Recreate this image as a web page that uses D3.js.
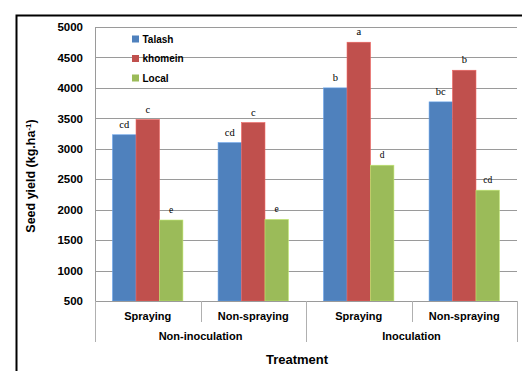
<!DOCTYPE html>
<html>
<head>
<meta charset="utf-8">
<script src="https://cdn.jsdelivr.net/npm/d3@7"></script>
<style>
  html, body { margin: 0; padding: 0; background: #fff; }
  svg { display: block; }
</style>
</head>
<body>
<svg id="chart" width="522" height="371"></svg>
<script>
// Seed yield by treatment and cultivar
const treatments = ["Spraying", "Non-spraying", "Spraying", "Non-spraying"];
const groups = ["Non-inoculation", "Inoculation"];
const seriesNames = ["Talash", "khomein", "Local"];
const talash  = [3230, 3100, 4000, 3770];
const khomein = [3480, 3430, 4750, 4290];
const local   = [1830, 1840, 2730, 2320];
const talashLetters  = ["cd", "cd", "b", "bc"];
const khomeinLetters = ["c", "c", "a", "b"];
const localLetters   = ["e", "e", "d", "cd"];
const yTicks = [500, 1000, 1500, 2000, 2500, 3000, 3500, 4000, 4500, 5000];
const colors = ["#4F81BD", "#C0504D", "#9BBB59"];

const seriesValues = [talash, khomein, local];
const seriesLetters = [talashLetters, khomeinLetters, localLetters];

const svg = d3.select("#chart");
const plotLeft = 95, plotRight = 517, plotTop = 27, plotBottom = 301;

// outer frame (left and top edges visible)
svg.append("path")
  .attr("d", "M16.5,371 L16.5,15.5 L522,15.5")
  .attr("fill", "none").attr("stroke", "#000").attr("stroke-width", 2);

const y = d3.scaleLinear().domain([500, 5000]).range([plotBottom, plotTop]);
const x0 = d3.scaleBand().domain(d3.range(treatments.length)).range([plotLeft, plotRight]).paddingInner(0).paddingOuter(0);
const bw = x0.bandwidth();
const x1 = d3.scaleBand().domain(d3.range(seriesNames.length)).range([bw * 0.1667, bw * 0.8333]).padding(0);

// horizontal gridlines
svg.append("g").selectAll("line").data(yTicks.filter(v => v > 500)).join("line")
  .attr("x1", plotLeft).attr("x2", plotRight)
  .attr("y1", d => Math.round(y(d)) + 0.5).attr("y2", d => Math.round(y(d)) + 0.5)
  .attr("stroke", "#9a9a9a").attr("stroke-width", 1);

// y axis
const yAxis = d3.axisLeft(y).tickValues(yTicks).tickSize(0).tickPadding(12).tickFormat(d3.format("d"));
const yg = svg.append("g").attr("transform", `translate(${plotLeft},0)`).call(yAxis);
yg.select(".domain").remove();
yg.selectAll("text")
  .attr("font-family", "Liberation Sans, Arial, sans-serif")
  .attr("font-weight", "bold").attr("font-size", 11.5).attr("fill", "#000");

// bars
const cat = svg.append("g").selectAll("g").data(d3.range(treatments.length)).join("g")
  .attr("transform", i => `translate(${x0(i)},0)`);
seriesNames.forEach((name, s) => {
  cat.append("rect")
    .attr("x", i => x1(s))
    .attr("y", i => y(seriesValues[s][i]))
    .attr("width", x1.bandwidth())
    .attr("height", i => plotBottom - y(seriesValues[s][i]))
    .attr("fill", colors[s])
    .attr("stroke", d3.color(colors[s]).brighter(0.6))
    .attr("stroke-width", 0.6);
  cat.append("text")
    .attr("x", i => x1(s) + x1.bandwidth() / 2)
    .attr("y", i => y(seriesValues[s][i]) - 7)
    .attr("text-anchor", "middle")
    .attr("font-family", "Liberation Serif, Times New Roman, serif")
    .attr("font-size", s === 2 ? 9.5 : 10.5)
    .attr("fill", "#000")
    .text(i => seriesLetters[s][i]);
});

// category axis
svg.append("line").attr("x1", plotLeft).attr("x2", plotRight)
  .attr("y1", plotBottom + 0.5).attr("y2", plotBottom + 0.5)
  .attr("stroke", "#9a9a9a");
svg.append("line").attr("x1", plotLeft + 0.5).attr("x2", plotLeft + 0.5)
  .attr("y1", plotTop).attr("y2", plotBottom)
  .attr("stroke", "#9a9a9a");
const dividers = d3.range(treatments.length + 1).map(i => i === treatments.length ? plotRight : x0(i));
svg.append("g").selectAll("line").data(dividers).join("line")
  .attr("x1", d => Math.round(d) + 0.5).attr("x2", d => Math.round(d) + 0.5)
  .attr("y1", plotBottom)
  .attr("y2", (d, i) => i % 2 === 0 ? 342 : 322)
  .attr("stroke", "#b0b0b0");

svg.append("g").selectAll("text").data(treatments).join("text")
  .attr("x", (d, i) => x0(i) + bw / 2)
  .attr("y", 319.5)
  .attr("text-anchor", "middle")
  .attr("font-family", "Liberation Sans, Arial, sans-serif")
  .attr("font-weight", "bold").attr("font-size", 11).attr("fill", "#000")
  .text(d => d);

svg.append("g").selectAll("text").data(groups).join("text")
  .attr("x", (d, i) => x0(i * 2) + bw)
  .attr("y", 339.5)
  .attr("text-anchor", "middle")
  .attr("font-family", "Liberation Sans, Arial, sans-serif")
  .attr("font-weight", "bold").attr("font-size", 11).attr("fill", "#000")
  .text(d => d);

// axis titles
svg.append("text")
  .attr("x", 297).attr("y", 364)
  .attr("text-anchor", "middle")
  .attr("font-family", "Liberation Sans, Arial, sans-serif")
  .attr("font-weight", "bold").attr("font-size", 13).attr("fill", "#000")
  .text("Treatment");

const yt = svg.append("text")
  .attr("transform", "translate(35,176) rotate(-90)")
  .attr("text-anchor", "middle")
  .attr("font-family", "Liberation Sans, Arial, sans-serif")
  .attr("font-weight", "bold").attr("font-size", 12.5).attr("fill", "#000");
yt.append("tspan").text("Seed yield (kg.ha");
yt.append("tspan").attr("dy", -4).attr("font-size", 8).text("-1");
yt.append("tspan").attr("dy", 4).text(")");

// legend
const lg = svg.append("g").selectAll("g").data(seriesNames).join("g")
  .attr("transform", (d, i) => `translate(132,${39 + i * 19.5})`);
lg.append("rect").attr("x", 0).attr("y", -3.5).attr("width", 7).attr("height", 7)
  .attr("fill", (d, i) => colors[i]);
lg.append("text").attr("x", 10.5).attr("y", 3.8)
  .attr("font-family", "Liberation Sans, Arial, sans-serif")
  .attr("font-weight", "bold").attr("font-size", 10).attr("fill", "#000")
  .text(d => d);
</script>
</body>
</html>
